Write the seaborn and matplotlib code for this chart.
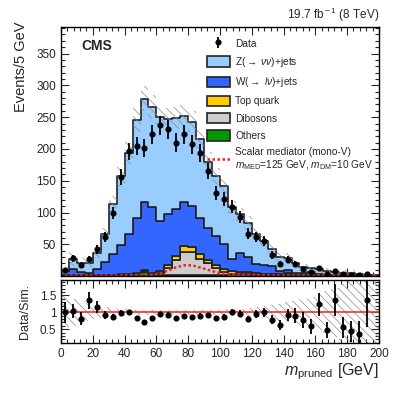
import numpy as np
import pandas as pd
import matplotlib
matplotlib.use('Agg')
import matplotlib.pyplot as plt
from matplotlib.patches import Patch
from matplotlib.lines import Line2D
from matplotlib.ticker import MultipleLocator, FormatStrFormatter
import seaborn as sns

# Binning: 5 GeV bins of pruned jet mass
edges = np.arange(0, 205, 5)
centers = edges[:-1] + 2.5

# Stacked backgrounds (events / bin)
z_jets = [2, 16.5, 14, 15, 25.5, 43.4, 79, 108, 128, 154,
          163, 158, 163, 150, 144, 136, 133, 123, 104, 95,
          92, 81, 61, 54, 47, 37, 26, 22, 19, 16,
          9.5, 5, 7.5, 5.8, 3.9, 3.4, 3.1, 1.5, 1.2, 0.7]
w_jets = [6.7, 9.2, 5.7, 3.5, 8.7, 20.3, 31.7, 46.3, 62.5, 87.5,
          106, 103.5, 79, 80, 73.5, 69, 64, 58, 50, 46,
          38.5, 19, 29.7, 24.2, 14.5, 14.5, 13, 5.3, 4.5, 3,
          2.9, 5.8, 1.9, 1.5, 1.3, 1.3, 0.9, 0.8, 0.7, 0.5]
top_quark = [0.5, 0.5, 0.5, 0.7, 0.8, 1, 1, 1.2, 1.5, 2,
             2.5, 2, 3, 5, 6.5, 9, 8, 7, 6, 5,
             4.5, 4, 3, 3, 2.5, 2, 1.5, 1.2, 1, 1,
             0.8, 0.6, 0.5, 0.4, 0.3, 0.3, 0.2, 0.2, 0.1, 0.1]
dibosons = [0.3, 0.3, 0.3, 0.3, 0.5, 0.5, 0.5, 0.5, 1, 1,
            1.5, 1.5, 4, 11, 24, 37, 37, 26, 19, 11,
            6, 3.2, 2.5, 2, 1.5, 1, 1, 1, 0.5, 0.5,
            0.5, 0.3, 0.3, 0.3, 0.2, 0.2, 0.2, 0.1, 0.1, 0.1]
others = [0.5, 0.5, 0.5, 0.5, 0.5, 0.8, 0.8, 1, 1, 1.5,
          6, 1, 1, 1, 1, 1, 1, 1, 1, 1,
          1, 0.8, 0.8, 0.8, 0.5, 0.5, 0.5, 0.5, 3, 0.5,
          0.3, 0.3, 0.3, 0.3, 0.2, 0.2, 0.2, 0.1, 0.1, 0.1]

# Observed data
data_counts = [10, 28, 17, 27, 42, 61, 99, 156, 196, 205,
               201, 223, 237, 231, 210, 223, 207, 194, 165, 131,
               122, 109, 93, 67, 62, 55, 33, 19, 26, 19,
               11, 7, 13, 4, 8, 3, 2, 1, 3, 0]

# Signal: scalar mediator (mono-V)
signal = [1, 1, 1, 1, 1, 1, 1, 1, 1.5, 1.5,
          2, 2, 4, 9, 14, 17, 17, 13.5, 10, 6,
          4, 3, 2, 2, 1.5, 1.5, 1, 1, 1, 1,
          1, 1, 1, 1, 1, 1, 1, 1, 1, 1]

# Relative uncertainty of the simulation (hatched band)
syst_unc = [0.50, 0.40, 0.33, 0.27, 0.20, 0.15, 0.12, 0.10, 0.09, 0.08,
            0.07, 0.07, 0.07, 0.07, 0.07, 0.07, 0.07, 0.07, 0.08, 0.08,
            0.09, 0.10, 0.11, 0.13, 0.15, 0.18, 0.21, 0.25, 0.29, 0.34,
            0.40, 0.46, 0.53, 0.62, 0.72, 0.85, 1.0, 1.0, 1.0, 1.0]

procs = ['Z', 'W', 'Top', 'Dib', 'Others']
labels = [r'Z($\rightarrow$ $\nu\nu$)+jets', r'W($\rightarrow$ $l\nu$)+jets',
          'Top quark', 'Dibosons', 'Others']
colors = {'Z': '#99ccff', 'W': '#3366ff', 'Top': '#ffcc00',
          'Dib': '#cccccc', 'Others': '#009900'}

df = pd.DataFrame({
    'mass': np.tile(centers, len(procs)),
    'events': np.concatenate([z_jets, w_jets, top_quark, dibosons, others]),
    'process': np.repeat(procs, len(centers)),
})

sns.set_style('ticks')
plt.rcParams['font.family'] = ['Liberation Sans', 'DejaVu Sans']
plt.rcParams['mathtext.fontset'] = 'custom'
plt.rcParams['mathtext.rm'] = 'Liberation Sans'
plt.rcParams['mathtext.it'] = 'Liberation Sans:italic'
plt.rcParams['hatch.linewidth'] = 0.5

fig = plt.figure(figsize=(4.07, 3.95), dpi=100)
ax = fig.add_axes([0.150, 0.301, 0.781, 0.631])
rax = fig.add_axes([0.150, 0.132, 0.781, 0.159])

# Stacked backgrounds
sns.histplot(data=df, x='mass', weights='events', hue='process', hue_order=procs,
             multiple='stack', binwidth=5, binrange=(0, 200), element='step',
             palette=colors, alpha=1, edgecolor='#222222', linewidth=1.2,
             legend=False, ax=ax)

total = np.sum([z_jets, w_jets, top_quark, dibosons, others], axis=0)
unc = np.array(syst_unc)
data = np.array(data_counts, dtype=float)
mask = data > 0

# uncertainty band
ax.stairs(total * (1 + unc), edges, baseline=total * (1 - unc), fill=True,
          facecolor='none', edgecolor='#8a8a8a', hatch='\\\\\\\\', linewidth=0)

# signal
sns.lineplot(x=centers, y=signal, ax=ax, color='#ee2222',
             linestyle=(0, (1, 1)), linewidth=1.8)

# data
data_handle = ax.errorbar(centers[mask], data[mask], yerr=np.sqrt(data[mask]),
                          fmt='o', color='black', ms=3.4, lw=1.3, capsize=0)

ax.set_xlim(0, 200)
ax.set_ylim(0, 392)
ax.set_yticks(range(50, 351, 50))
ax.yaxis.set_minor_locator(MultipleLocator(10))
ax.xaxis.set_major_locator(MultipleLocator(20))
ax.xaxis.set_minor_locator(MultipleLocator(4))
ax.tick_params(labelbottom=False)
ax.set_xlabel('')
ax.set_ylabel('Events/5 GeV', loc='top', fontsize=10.5)

ax.text(0.065, 0.925, 'CMS', transform=ax.transAxes, fontsize=10,
        fontweight='bold', va='center')
fig.text(0.931, 0.94, r'19.7 fb$^{\rm -1}$ (8 TeV)', ha='right', va='bottom',
         fontsize=8.5)

handles = [data_handle]
for p in procs:
    handles.append(Patch(facecolor=colors[p], edgecolor='#222222', linewidth=1.2))
handles.append(Line2D([], [], color='#ee2222', linestyle=(0, (1, 1)), linewidth=1.8))
leg_labels = ['Data'] + labels + ['Scalar mediator (mono-V)\n'
                                  r'$m_{\rm MED}$=125 GeV, $m_{\rm DM}$=10 GeV']
ax.legend(handles, leg_labels, loc='upper left', bbox_to_anchor=(0.46, 0.955),
          frameon=False, fontsize=7.3, borderaxespad=0, borderpad=0,
          handlelength=2.2, handleheight=1.25, labelspacing=0.62,
          handletextpad=0.55)

# Ratio panel
ratio = data / total
rerr = np.sqrt(data) / total
rax.stairs(1 + unc, edges, baseline=1 - unc, fill=True, facecolor='none',
           edgecolor='#8a8a8a', hatch='\\\\\\\\', linewidth=0)
rax.axhline(1, color='#ee3333', linewidth=1.2)
rax.errorbar(centers[mask], ratio[mask], yerr=rerr[mask], fmt='o', color='black',
             ms=3.4, lw=1.3, capsize=0)
rax.set_xlim(0, 200)
rax.set_ylim(0.1, 1.95)
rax.set_yticks([0.5, 1, 1.5])
rax.yaxis.set_major_formatter(FormatStrFormatter('%g'))
rax.yaxis.set_minor_locator(MultipleLocator(0.1))
rax.xaxis.set_major_locator(MultipleLocator(20))
rax.xaxis.set_minor_locator(MultipleLocator(4))
rax.set_ylabel('Data/Sim.', fontsize=9)
rax.set_xlabel(r'$m_{\rm pruned}$ [GeV]', loc='right', fontsize=11.5, labelpad=1)

for a in (ax, rax):
    a.tick_params(which='both', direction='in', top=True, right=True,
                  labelsize=8.5, width=0.8)
    a.tick_params(which='major', length=6)
    a.tick_params(which='minor', length=3)
    for s in a.spines.values():
        s.set_linewidth(1)
        s.set_color('black')
ax.yaxis.set_label_coords(-0.105, 1.02)
rax.yaxis.set_label_coords(-0.095, 0.5)

fig.savefig('out.png', dpi=100)
